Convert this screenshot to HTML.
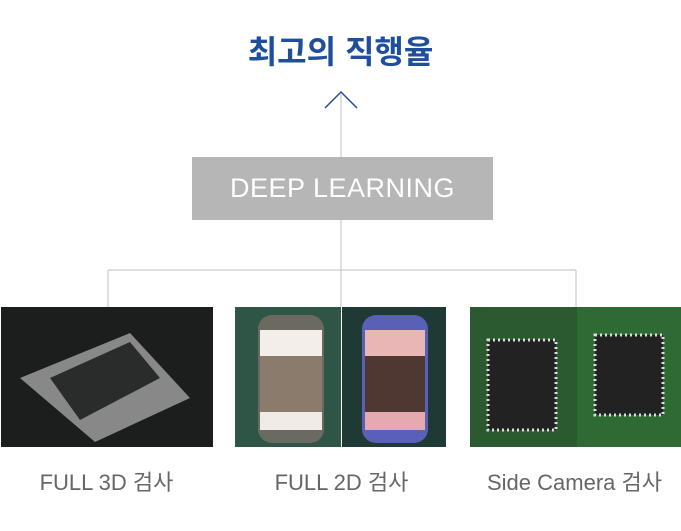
<!DOCTYPE html>
<html><head><meta charset="utf-8"><style>
body{margin:0;width:681px;height:531px;background:#fff;position:relative;overflow:hidden;font-family:"Liberation Sans","Noto Sans CJK KR",sans-serif}
.a{position:absolute}
.t{left:0;width:681px;text-align:center;top:27px;font-size:32px;font-weight:bold;color:#1f4e9c}
.box{left:192px;top:157px;width:301px;height:63px;background:#b5b6b5;color:#fff;font-size:27px;text-align:center;line-height:63px;letter-spacing:0.5px}
.lbl{top:465px;font-size:22px;color:#666;text-align:center;width:213px}
</style></head><body>
<div class="a t">최고의 직행율</div>
<svg class="a" style="left:0;top:0" width="681" height="531">
<polyline points="325,108 341,92 357,108" fill="none" stroke="#1f4e9c" stroke-width="1.5"/>
<line x1="341" y1="93" x2="341" y2="307" stroke="#ccc" stroke-width="1.2"/>
<line x1="108" y1="270" x2="576" y2="270" stroke="#ccc" stroke-width="1.2"/>
<line x1="108" y1="270" x2="108" y2="307" stroke="#ccc" stroke-width="1.2"/>
<line x1="576" y1="270" x2="576" y2="307" stroke="#ccc" stroke-width="1.2"/>
<rect x="1" y="307" width="212" height="140" fill="#1c1d1d"/>
<polygon points="20,378 130,333 190,398 95,442" fill="#888"/>
<polygon points="50,378 130,342 160,378 80,420" fill="#2a2c2c"/>
<rect x="235" y="307" width="106" height="140" fill="#2f5546"/>
<rect x="342" y="307" width="104" height="140" fill="#1f3a34"/>
<rect x="258" y="315" width="66" height="128" rx="14" fill="#6b6a60"/>
<rect x="260" y="330" width="62" height="26" fill="#f4eeea"/>
<rect x="260" y="356" width="62" height="56" fill="#8a7b6c"/>
<rect x="260" y="412" width="62" height="18" fill="#f0ebe6"/>
<rect x="362" y="315" width="66" height="128" rx="14" fill="#5a5fb8"/>
<rect x="365" y="330" width="60" height="26" fill="#e9b5b5"/>
<rect x="365" y="356" width="60" height="56" fill="#4f3832"/>
<rect x="365" y="412" width="60" height="18" fill="#e4aab0"/>
<rect x="470" y="307" width="211" height="140" fill="#2c5a30"/>
<rect x="577" y="307" width="104" height="140" fill="#2f6a35"/>
<rect x="488" y="340" width="68" height="90" fill="#222" stroke="#ddd" stroke-width="3" stroke-dasharray="2 3"/>
<rect x="595" y="335" width="68" height="80" fill="#222" stroke="#ddd" stroke-width="3" stroke-dasharray="2 3"/>
</svg>
<div class="a box">DEEP LEARNING</div>
<div class="a lbl" style="left:0">FULL 3D 검사</div>
<div class="a lbl" style="left:235px">FULL 2D 검사</div>
<div class="a lbl" style="left:468px">Side Camera 검사</div>
</body></html>
